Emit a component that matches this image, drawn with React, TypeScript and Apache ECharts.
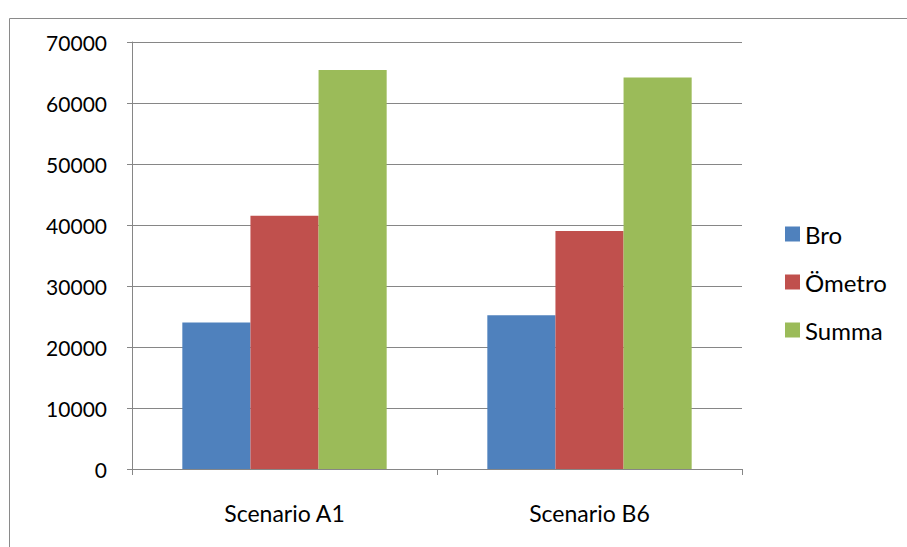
import React, { useEffect, useRef } from "react";
import * as echarts from "echarts";

// Scenarios on the x axis
const categories = ["Scenario A1", "Scenario B6"];

// Series values per scenario
const broValues = [24000, 25200];
const ometroValues = [41500, 39000];
const summaValues = [65400, 64200];

// Value axis range
const yMin = 0;
const yMax = 70000;
const yStep = 10000;

const FONT = "Lato, 'Open Sans', sans-serif";

export default function App() {
  const ref = useRef<HTMLDivElement>(null);

  useEffect(() => {
    if (!ref.current) return;
    const chart = echarts.init(ref.current, undefined, { renderer: "svg" });
    chart.setOption({
      animation: false,
      backgroundColor: "#ffffff",
      textStyle: { fontFamily: FONT },
      graphic: [
        {
          type: "rect",
          shape: { x: 9.5, y: 18.5, width: 1000, height: 1000 },
          style: { fill: "none", stroke: "#8a8a8a", lineWidth: 1 },
          silent: true,
        },
      ],
      grid: { left: 132, right: 165, top: 42, bottom: 78, containLabel: false },
      legend: {
        orient: "vertical",
        left: 780,
        top: 217,
        itemWidth: 15,
        itemHeight: 15,
        itemGap: 24,
        icon: "rect",
        textStyle: { fontFamily: FONT, fontSize: 24, color: "#000" },
        data: ["Bro", "Ömetro", "Summa"],
      },
      xAxis: {
        type: "category",
        data: categories,
        axisLine: { show: true, lineStyle: { color: "#868686", width: 1 } },
        axisTick: { show: true, length: 6, alignWithLabel: false, lineStyle: { color: "#868686" } },
        axisLabel: { color: "#000", fontSize: 23, fontFamily: FONT, margin: 32 },
      },
      yAxis: {
        type: "value",
        min: yMin,
        max: yMax,
        interval: yStep,
        axisLine: { show: true, lineStyle: { color: "#868686", width: 1 } },
        axisTick: { show: true, length: 5, lineStyle: { color: "#868686" } },
        axisLabel: {
          color: "#000",
          fontSize: 21,
          fontFamily: FONT,
          margin: 25,
          formatter: (v: number) => String(v),
        },
        splitLine: { show: true, lineStyle: { color: "#868686", width: 1 } },
      },
      series: [
        {
          name: "Bro",
          type: "bar",
          data: broValues,
          barGap: "0%",
          barCategoryGap: "33%",
          itemStyle: { color: "#4F81BD" },
        },
        {
          name: "Ömetro",
          type: "bar",
          data: ometroValues,
          barGap: "0%",
          barCategoryGap: "33%",
          itemStyle: { color: "#C0504D" },
        },
        {
          name: "Summa",
          type: "bar",
          data: summaValues,
          barGap: "0%",
          barCategoryGap: "33%",
          itemStyle: { color: "#9BBB59" },
        },
      ],
    });
    return () => chart.dispose();
  }, []);

  return (
    <div
      ref={ref}
      style={{ position: "fixed", left: 0, top: 0, width: 907, height: 547 }}
    />
  );
}
